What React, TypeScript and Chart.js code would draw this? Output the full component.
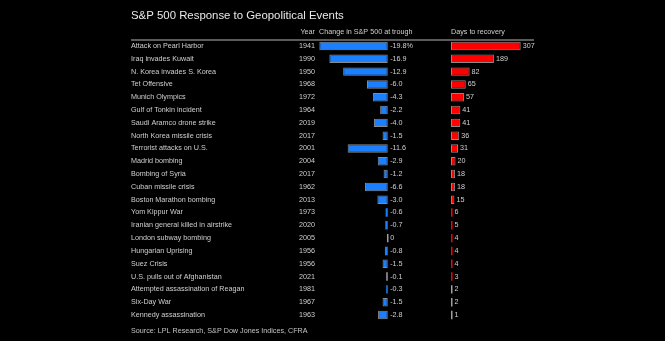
import React, { useEffect, useRef } from "react";
import { Chart, registerables } from "chart.js";

Chart.register(...registerables);

const events: string[] = [
  "Attack on Pearl Harbor",
  "Iraq invades Kuwait",
  "N. Korea invades S. Korea",
  "Tet Offensive",
  "Munich Olympics",
  "Gulf of Tonkin incident",
  "Saudi Aramco drone strike",
  "North Korea missile crisis",
  "Terrorist attacks on U.S.",
  "Madrid bombing",
  "Bombing of Syria",
  "Cuban missile crisis",
  "Boston Marathon bombing",
  "Yom Kippur War",
  "Iranian general killed in airstrike",
  "London subway bombing",
  "Hungarian Uprising",
  "Suez Crisis",
  "U.S. pulls out of Afghanistan",
  "Attempted assassination of Reagan",
  "Six-Day War",
  "Kennedy assassination",
];

const years: string[] = [
  "1941", "1990", "1950", "1968", "1972", "1964", "2019", "2017", "2001", "2004", "2017",
  "1962", "2013", "1973", "2020", "2005", "1956", "1956", "2021", "1981", "1967", "1963",
];

const changeAtTrough: number[] = [
  -19.8, -16.9, -12.9, -6.0, -4.3, -2.2, -4.0, -1.5, -11.6, -2.9, -1.2,
  -6.6, -3.0, -0.6, -0.7, 0, -0.8, -1.5, -0.1, -0.3, -1.5, -2.8,
];

const daysToRecovery: number[] = [
  307, 189, 82, 65, 57, 41, 41, 36, 31, 20, 18, 18, 15, 6, 5, 4, 4, 4, 3, 2, 2, 1,
];

const TITLE = "S&P 500 Response to Geopolitical Events";
const HEADER_YEAR = "Year";
const HEADER_CHANGE = "Change in S&P 500 at trough";
const HEADER_DAYS = "Days to recovery";
const SOURCE = "Source: LPL Research, S&P Dow Jones Indices, CFRA";

const FONT = "'Liberation Sans', Arial, Helvetica, sans-serif";
const SMALL = 7.2;
const BLUE = "#1a80ff";
const RED = "#ff0000";
const OUTLINE = "#8a8a8a";

function fmtChange(v: number, i: number): string {
  const s = v === 0 ? "0" : v.toFixed(1);
  return i === 0 ? s + "%" : s;
}

function barPx(c: any): number {
  const sc = c.chart.scales[c.dataset.xAxisID];
  const v = typeof c.raw === "number" ? c.raw : 0;
  if (!sc) return 10;
  return Math.abs(sc.getPixelForValue(v) - sc.getPixelForValue(0));
}

const overlayPlugin = {
  id: "overlay",
  beforeDraw(chart: any) {
    const ctx = chart.ctx;
    ctx.save();
    ctx.fillStyle = "#000";
    ctx.fillRect(0, 0, chart.width, chart.height);
    ctx.restore();
  },
  afterDraw(chart: any) {
    const ctx = chart.ctx;
    const area = chart.chartArea;
    const xc = chart.scales.xChange;
    const xd = chart.scales.xDays;
    const y = chart.scales.y;
    const left = 131;
    ctx.save();
    ctx.fillStyle = "#e8e8e8";
    ctx.font = `11.4px ${FONT}`;
    ctx.textAlign = "left";
    ctx.textBaseline = "middle";
    ctx.fillText(TITLE, left, 15.5);
    ctx.font = `${SMALL}px ${FONT}`;
    ctx.fillStyle = "#cfcfcf";
    ctx.textAlign = "right";
    ctx.fillText(HEADER_YEAR, area.left - 4, 32.5);
    ctx.textAlign = "left";
    ctx.fillText(HEADER_CHANGE, area.left, 32.5);
    ctx.fillText(HEADER_DAYS, xd.getPixelForValue(0), 32.5);
    ctx.strokeStyle = "#7a7a7a";
    ctx.lineWidth = 1.5;
    ctx.beginPath();
    ctx.moveTo(left, 40);
    ctx.lineTo(area.right, 40);
    ctx.stroke();
    ctx.fillStyle = "#d0d0d0";
    ctx.textAlign = "left";
    changeAtTrough.forEach((v, i) => {
      const py = y.getPixelForValue(i);
      ctx.fillText(fmtChange(v, i), xc.getPixelForValue(0) + 2.5, py);
    });
    daysToRecovery.forEach((v, i) => {
      const py = y.getPixelForValue(i);
      const px = Math.max(xd.getPixelForValue(v), xd.getPixelForValue(0) + 1.5);
      ctx.fillText(String(v), px + 2, py);
    });
    ctx.fillStyle = "#c4c4c4";
    ctx.fillText(SOURCE, left, 331);
    ctx.restore();
  },
};

function barDataset(label: string, data: number[], axis: string, color: string) {
  return {
    label,
    data,
    xAxisID: axis,
    yAxisID: "y",
    backgroundColor: (c: any) => (barPx(c) < 0.5 ? "#a0a0a0" : color),
    borderColor: OUTLINE,
    borderWidth: (c: any) => (barPx(c) < 3 ? 0 : 1),
    borderSkipped: false,
    grouped: false,
    minBarLength: 1.5,
    categoryPercentage: 1,
    barPercentage: 0.66,
  };
}

export default function App() {
  const ref = useRef<HTMLCanvasElement | null>(null);

  useEffect(() => {
    if (!ref.current) return;
    const chart = new Chart(ref.current, {
      type: "bar",
      data: {
        labels: events,
        datasets: [
          barDataset(HEADER_CHANGE, changeAtTrough, "xChange", BLUE),
          barDataset(HEADER_DAYS, daysToRecovery, "xDays", RED),
        ],
      } as any,
      options: {
        indexAxis: "y",
        responsive: false,
        animation: false,
        layout: { padding: { left: 131, right: 131, top: 39.6, bottom: 19.6 } },
        plugins: { legend: { display: false }, tooltip: { enabled: false } },
        scales: {
          xChange: { type: "linear", position: "bottom", display: false, min: -19.9, max: 42.35 },
          xDays: { type: "linear", position: "bottom", display: false, min: -581.5, max: 365.6 },
          y: {
            type: "category",
            position: "left",
            weight: 2,
            offset: true,
            grid: { display: false, drawTicks: false },
            border: { display: false },
            ticks: {
              crossAlign: "far",
              padding: 0,
              color: "#cfcfcf",
              font: { family: FONT, size: SMALL },
              autoSkip: false,
            },
            afterFit: (s: any) => {
              s.width = 150;
            },
          },
          yYear: {
            type: "category",
            position: "left",
            weight: 1,
            labels: years,
            offset: true,
            grid: { display: false, drawTicks: false },
            border: { display: false },
            ticks: {
              crossAlign: "near",
              padding: 4,
              color: "#cfcfcf",
              font: { family: FONT, size: SMALL },
              autoSkip: false,
            },
            afterFit: (s: any) => {
              s.width = 38;
            },
          },
        } as any,
      },
      plugins: [overlayPlugin],
    });
    return () => chart.destroy();
  }, []);

  return (
    <div style={{ position: "fixed", left: 0, top: 0, width: 665, height: 341, background: "#000" }}>
      <canvas ref={ref} width={665} height={341} style={{ display: "block", width: 665, height: 341 }} />
    </div>
  );
}
